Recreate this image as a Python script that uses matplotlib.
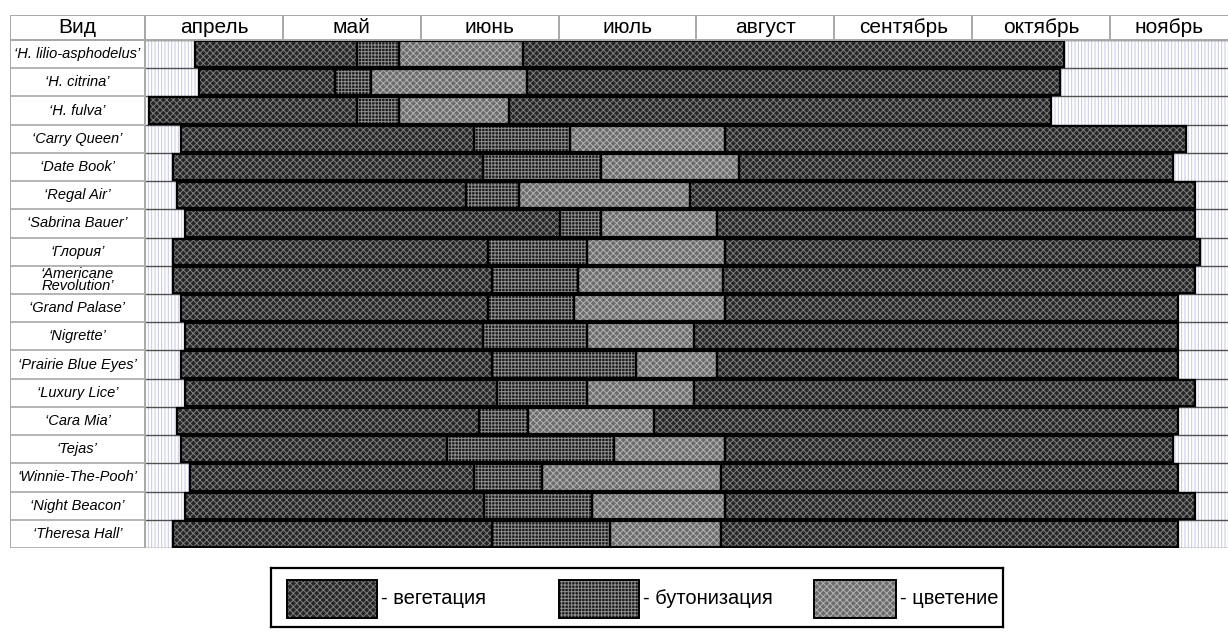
import matplotlib.pyplot as plt
from matplotlib.patches import Rectangle
import numpy as np

plt.rcParams['font.family'] = ['Liberation Sans', 'DejaVu Sans']
plt.rcParams['hatch.linewidth'] = 0.7

months = ['апрель', 'май', 'июнь', 'июль', 'август', 'сентябрь', 'октябрь', 'ноябрь']
cultivars = ["‘H. lilio-asphodelus’", "‘H. citrina’", "‘H. fulva’", "‘Carry Queen’",
             "‘Date Book’", "‘Regal Air’", "‘Sabrina Bauer’", "‘Глория’",
             "‘Americane\nRevolution’", "‘Grand Palase’", "‘Nigrette’",
             "‘Prairie Blue Eyes’", "‘Luxury Lice’", "‘Cara Mia’", "‘Tejas’",
             "‘Winnie-The-Pooh’", "‘Night Beacon’", "‘Theresa Hall’"]

# phase boundaries, in months counted from 1 April
veg_start = [0.36, 0.39, 0.03, 0.26, 0.20, 0.23, 0.29, 0.20, 0.20, 0.26, 0.29, 0.26,
             0.29, 0.23, 0.26, 0.33, 0.29, 0.20]
bud_start = [1.54, 1.38, 1.54, 2.39, 2.45, 2.33, 3.01, 2.49, 2.52, 2.49, 2.45, 2.52,
             2.55, 2.42, 2.19, 2.39, 2.46, 2.52]
flower_start = [1.84, 1.64, 1.84, 3.08, 3.31, 2.71, 3.31, 3.21, 3.14, 3.11, 3.21, 3.56,
                3.21, 2.78, 3.40, 2.88, 3.24, 3.37]
flower_end = [2.74, 2.77, 2.64, 4.21, 4.31, 3.95, 4.15, 4.21, 4.19, 4.21, 3.98, 4.15,
              3.98, 3.69, 4.21, 4.18, 4.21, 4.18]
veg_end = [6.67, 6.64, 6.57, 7.55, 7.46, 7.62, 7.62, 7.65, 7.62, 7.49, 7.49, 7.49,
           7.62, 7.49, 7.46, 7.49, 7.62, 7.49]

phase_labels = ['- вегетация', '- бутонизация', '- цветение']
# face colour, hatch, hatch colour
styles = [('#262626', 'xxxxx', '#808080'),
          ('#1a1a1a', '+++++', '#8e8e8e'),
          ('#6c6c6c', 'xxxxx', '#b4b4b4')]

n = len(cultivars)
y = np.arange(n) + 0.5
x_left = -0.979
x_right = 7.856
hdr = 0.886
grid_col = '#a8a8a8'

fig = plt.figure(figsize=(12.28, 6.35), dpi=100)
ax = fig.add_axes([10 / 1228, 1 - 548 / 635, 1218 / 1228, (548 - 15) / 635])
ax.set_xlim(x_left, x_right)
ax.set_ylim(n, -hdr)
ax.axis('off')

# empty (dormant) background
ax.barh(y, x_right, left=0, height=1, color='white', hatch='|||||',
        edgecolor='#c5cae0', linewidth=0, zorder=1)
ax.hlines(np.arange(n + 1), 0, x_right, color='#505050', lw=1.0, zorder=2)


def draw_phase(start, end, st):
    start = np.array(start)
    end = np.array(end)
    fc, hatch, hc = st
    ax.barh(y, end - start, left=start, height=0.93, color=fc, hatch=hatch,
            edgecolor=hc, linewidth=0, zorder=3)
    ax.barh(y, end - start, left=start, height=0.93, fill=False,
            edgecolor='black', linewidth=1.6, zorder=4)


draw_phase(veg_start, bud_start, styles[0])
draw_phase(bud_start, flower_start, styles[1])
draw_phase(flower_start, flower_end, styles[2])
draw_phase(flower_end, veg_end, styles[0])

# table lines
ax.hlines(np.arange(n + 1), x_left, 0, color=grid_col, lw=1.2, zorder=2)
ax.hlines([-hdr, 0], x_left, x_right, color=grid_col, lw=1.4, zorder=5)
ax.vlines(np.arange(len(months)), -hdr, 0, color=grid_col, lw=1.4, zorder=5)
ax.vlines([x_left, 0], -hdr, n, color=grid_col, lw=1.4, zorder=5)

ax.text(x_left / 2, -hdr / 2, 'Вид', ha='center', va='center', fontsize=15)
for k, m in enumerate(months):
    xc = k + 0.5 if k < len(months) - 1 else (k + x_right) / 2
    ax.text(xc, -hdr / 2, m, ha='center', va='center', fontsize=15)

for yi, name in zip(y, cultivars):
    ax.text(x_left / 2, yi, name, ha='center', va='center', fontsize=10.5,
            style='italic', linespacing=0.8)

# legend box
lax = fig.add_axes([271 / 1228, 1 - 627 / 635, (1003 - 271) / 1228, (627 - 568) / 635])
lax.set_xlim(271, 1003)
lax.set_ylim(627, 568)
lax.set_xticks([])
lax.set_yticks([])
for s in lax.spines.values():
    s.set_linewidth(1.6)
swatch_x = [287, 559, 814]
swatch_w = [90, 80, 82]
for sx, sw, st, lab in zip(swatch_x, swatch_w, styles, phase_labels):
    fc, hatch, hc = st
    lax.add_patch(Rectangle((sx, 580), sw, 38, facecolor=fc, hatch=hatch,
                            edgecolor=hc, linewidth=0))
    lax.add_patch(Rectangle((sx, 580), sw, 38, fill=False, edgecolor='black',
                            linewidth=1.4))
    lax.text(sx + sw + 4, 599, lab, ha='left', va='center', fontsize=14.5)

fig.savefig('out.png', dpi=100)
